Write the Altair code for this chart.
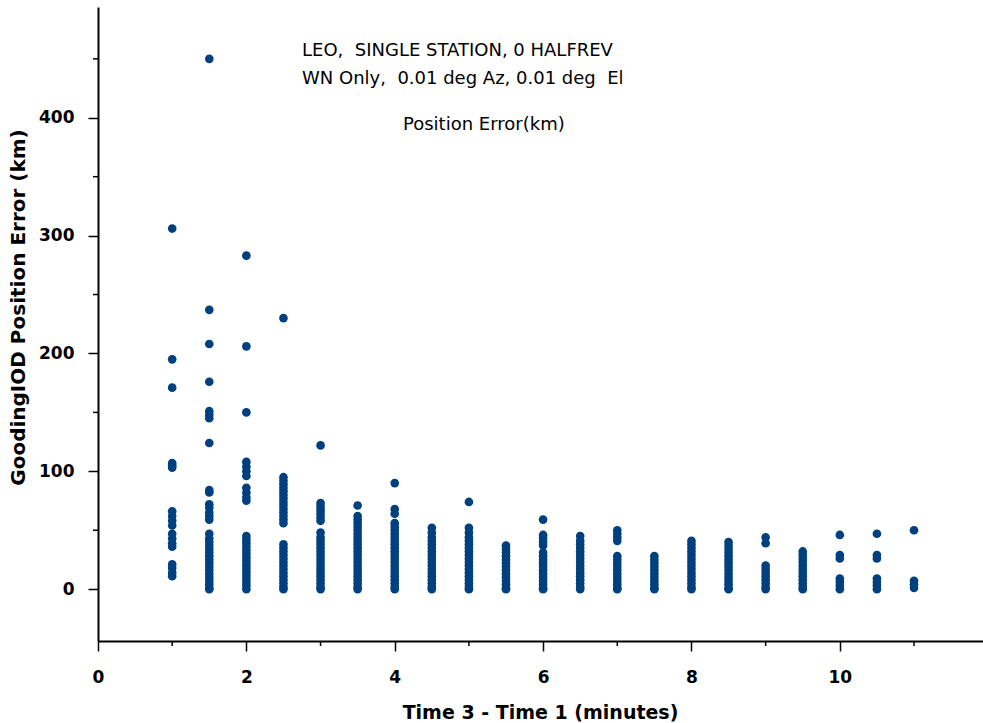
import altair as alt
import pandas as pd

# Time 3 - Time 1 (minutes) cluster positions and GoodingIOD position errors (km)
t_values = [1.0, 1.5, 2.0, 2.5, 3.0, 3.5, 4.0, 4.5, 5.0, 5.5, 6.0,
            6.5, 7.0, 7.5, 8.0, 8.5, 9.0, 9.5, 10.0, 10.5, 11.0]

err_1_0 = [306, 195, 171, 107, 105, 103, 66, 62, 58, 54, 47, 43, 39, 36, 21, 18, 14, 11]
err_1_5 = [450, 237, 208, 176, 151, 148, 145, 124, 84, 82, 72, 69, 65, 62, 59, 47, 43,
           40, 37, 34, 31, 28, 25, 22, 19, 16, 13, 10, 7, 4, 1, 0]
err_2_0 = [283, 206, 150, 108, 104, 100, 96, 86, 82, 78, 75, 45, 42, 39, 36, 33, 30, 27,
           24, 21, 18, 15, 12, 9, 6, 3, 0]
err_2_5 = [230, 95, 92, 89, 86, 83, 80, 77, 74, 71, 68, 65, 62, 59, 56, 38, 35, 32, 29,
           26, 23, 20, 17, 14, 11, 8, 5, 2, 0]
err_3_0 = [122, 73, 70, 67, 64, 61, 58, 48, 44, 41, 38, 35, 32, 29, 26, 23, 20, 17, 14,
           11, 8, 5, 2, 0]
err_3_5 = [71, 62, 59, 56, 53, 50, 47, 44, 41, 38, 35, 32, 29, 26, 23, 20, 17, 14, 11, 8, 5, 2, 0]
err_4_0 = [90, 68, 64, 56, 53, 50, 47, 44, 41, 38, 35, 32, 29, 26, 23, 20, 17, 14, 11, 8, 5, 2, 0]
err_4_5 = [52, 48, 44, 41, 38, 35, 32, 29, 26, 23, 20, 17, 14, 11, 8, 5, 2, 0]
err_5_0 = [74, 52, 48, 44, 41, 38, 35, 32, 29, 26, 23, 20, 17, 14, 11, 8, 5, 2, 0]
err_5_5 = [37, 34, 31, 28, 25, 22, 19, 16, 13, 10, 7, 4, 1, 0]
err_6_0 = [59, 46, 43, 40, 37, 31, 28, 25, 22, 19, 16, 13, 10, 7, 4, 1, 0]
err_6_5 = [45, 41, 38, 35, 32, 29, 26, 23, 20, 17, 14, 11, 8, 5, 2, 0]
err_7_0 = [50, 47, 44, 41, 28, 25, 22, 19, 16, 13, 10, 7, 4, 1, 0]
err_7_5 = [28, 25, 22, 19, 16, 13, 10, 7, 4, 1, 0]
err_8_0 = [41, 38, 35, 32, 29, 26, 23, 20, 17, 14, 11, 8, 5, 2, 0]
err_8_5 = [40, 37, 34, 31, 28, 25, 22, 19, 16, 13, 10, 7, 4, 1, 0]
err_9_0 = [44, 39, 20, 17, 14, 11, 8, 5, 2, 0]
err_9_5 = [32, 29, 26, 23, 20, 17, 14, 11, 8, 5, 2, 0]
err_10_0 = [46, 29, 26, 9, 6, 3, 0]
err_10_5 = [47, 29, 26, 9, 6, 3, 0]
err_11_0 = [50, 7, 4, 1]

err_lists = [err_1_0, err_1_5, err_2_0, err_2_5, err_3_0, err_3_5, err_4_0, err_4_5,
             err_5_0, err_5_5, err_6_0, err_6_5, err_7_0, err_7_5, err_8_0, err_8_5,
             err_9_0, err_9_5, err_10_0, err_10_5, err_11_0]

x_major = [0, 2, 4, 6, 8, 10]
x_minor = [1, 3, 5, 7, 9, 11]
y_major = [0, 100, 200, 300, 400]
y_minor = [50, 150, 250, 350, 450]

NB = "\u00a0"
note_lines = ["LEO," + NB + NB + "SINGLE STATION, 0 HALFREV",
              "WN Only," + NB + NB + "0.01 deg Az, 0.01 deg" + NB + NB + "El",
              "Position Error(km)"]
# left pixel of each line inside the plot area (layout only)
note_px = [204, 204, 305]
note_py = [44, 72, 118]

rows = [{"t": t, "err": e} for t, errs in zip(t_values, err_lists) for e in errs]
df = pd.DataFrame(rows)
notes_df = pd.DataFrame({"s": note_lines, "px": note_px, "py": note_py})

W, H = 885, 634
xs = alt.Scale(domain=[0, 11.93], nice=False, zero=False)
ys = alt.Scale(domain=[-44, 494], nice=False, zero=False)

FONT = "DejaVu Sans"

x_axis = alt.Axis(values=x_major, title="Time 3 - Time 1 (minutes)", grid=False,
                  labelFont=FONT, labelFontWeight="bold", labelFontSize=17, labelColor="black",
                  labelFlush=False, labelPadding=18,
                  tickSize=10, tickWidth=1.5, tickColor="black",
                  domainColor="black", domainWidth=2,
                  titleFont=FONT, titleFontWeight="bold", titleFontSize=19, titleColor="black",
                  titleX=442, titleY=71, titleAlign="center", titleBaseline="middle")
y_axis = alt.Axis(values=y_major, title="GoodingIOD Position Error (km)", grid=False,
                  labelFont=FONT, labelFontWeight="bold", labelFontSize=17, labelColor="black",
                  labelPadding=14, labelFlush=False,
                  tickSize=10, tickWidth=1.5, tickColor="black",
                  domainColor="black", domainWidth=2,
                  titleFont=FONT, titleFontWeight="bold", titleFontSize=20, titleColor="black",
                  titleX=-80, titleY=300, titleAngle=-90, titleAlign="center",
                  titleBaseline="middle")

points = alt.Chart(df).mark_circle(size=75, color="#00407f", opacity=1).encode(
    x=alt.X("t:Q", scale=xs, axis=x_axis),
    y=alt.Y("err:Q", scale=ys, axis=y_axis),
)

y_minor_ticks = alt.Chart(pd.DataFrame({"v": y_minor})).mark_rule(
    color="black", strokeWidth=1.5).encode(
    y=alt.Y("v:Q", scale=ys, axis=y_axis), x=alt.value(-5), x2=alt.value(0))

x_minor_ticks = alt.Chart(pd.DataFrame({"v": x_minor})).mark_rule(
    color="black", strokeWidth=1.5).encode(
    x=alt.X("v:Q", scale=xs, axis=x_axis), y=alt.value(H), y2=alt.value(H + 5))

notes = alt.Chart(notes_df).mark_text(
    align="left", baseline="middle", font=FONT, fontSize=18, color="black").encode(
    text="s:N", x=alt.X("px:Q", scale=None), y=alt.Y("py:Q", scale=None))

chart = alt.layer(points, y_minor_ticks, x_minor_ticks, notes).properties(
    width=W, height=H,
    background="white",
    autosize=alt.AutoSizeParams(type="none"),
    padding={"left": 98, "top": 7, "right": 0, "bottom": 82},
).configure_view(stroke=None)

chart.save("out.html", embed_options={"renderer": "svg", "actions": False})
